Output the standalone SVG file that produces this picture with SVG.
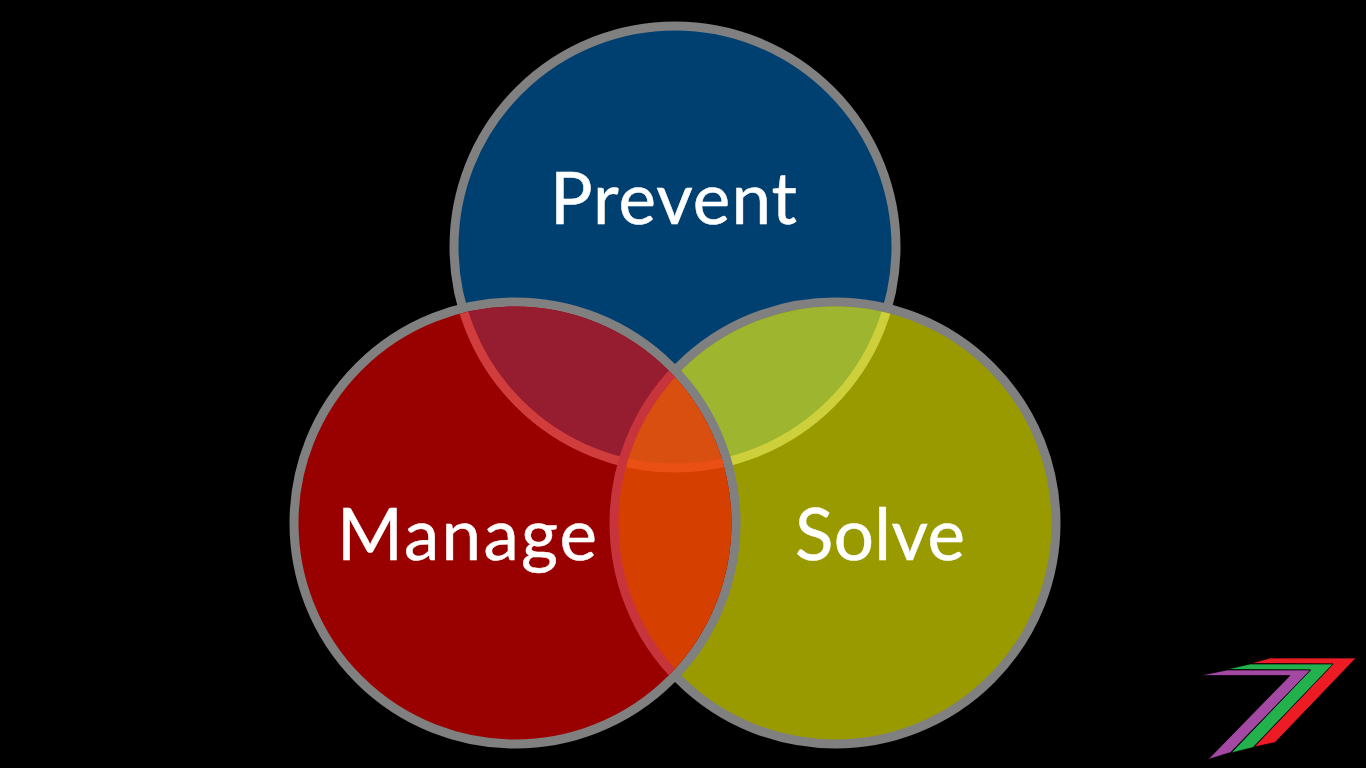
<svg xmlns="http://www.w3.org/2000/svg" width="1366" height="768" viewBox="0 0 1366 768">
<style>
.s{fill:none;stroke-width:9}
.g{stroke:#808080}
.t{font-family:"Lato","Liberation Sans",sans-serif;font-size:71px;fill:#fff;stroke:#fff;stroke-width:.5;text-anchor:middle}
.l{stroke:#000;stroke-width:.7}
</style>
<defs>
<circle id="cb" cx="675" cy="247" r="221"/>
<circle id="cr" cx="515" cy="523" r="221"/>
<circle id="cy" cx="835" cy="523" r="221"/>
<clipPath id="inR"><circle cx="515" cy="523" r="216.5"/></clipPath>
<clipPath id="inY"><circle cx="835" cy="523" r="216.5"/></clipPath>
</defs>
<rect width="1366" height="768" fill="#000"/>
<g id="prevent">
<use href="#cb" fill="#004070"/>
<use href="#cb" class="s g"/>
</g>
<g id="solve">
<use href="#cy" fill="#999900"/>
<use href="#cy" class="s g"/>
<g clip-path="url(#inY)">
<use href="#cb" fill="#9db52f"/>
<use href="#cb" class="s" stroke="#cdd03a"/>
</g>
</g>
<g id="manage">
<use href="#cr" fill="#990000"/>
<use href="#cr" class="s g"/>
<g clip-path="url(#inR)">
<use href="#cb" fill="#961c30"/>
<use href="#cb" class="s" stroke="#d13c3c"/>
<use href="#cy" fill="#d53f00"/>
<g clip-path="url(#inY)">
<use href="#cb" fill="#d84f10"/>
<use href="#cb" class="s" stroke="#ea5014"/>
</g>
<use href="#cy" class="s" stroke="#c8343c"/>
</g>
</g>
<text class="t" x="673.5" y="223.5" textLength="247" lengthAdjust="spacing">Prevent</text>
<text class="t" x="467" y="559.5" textLength="260" lengthAdjust="spacing">Manage</text>
<text class="t" x="880" y="559.5" textLength="170" lengthAdjust="spacing">Solve</text>
<g id="logo">
<polygon class="l" fill="#ed1c24" points="1250,663.5 1270,658 1356,658 1275,742.5 1254,747 1333,664"/>
<polygon class="l" fill="#22b14c" points="1226,669.5 1250,664 1333,664 1253,747.5 1231,753 1310.5,670"/>
<polygon class="l" fill="#a349a4" points="1200,675.5 1227,670 1310.5,670 1230.5,752.5 1208,759.5 1290,675.5"/>
</g>
</svg>
